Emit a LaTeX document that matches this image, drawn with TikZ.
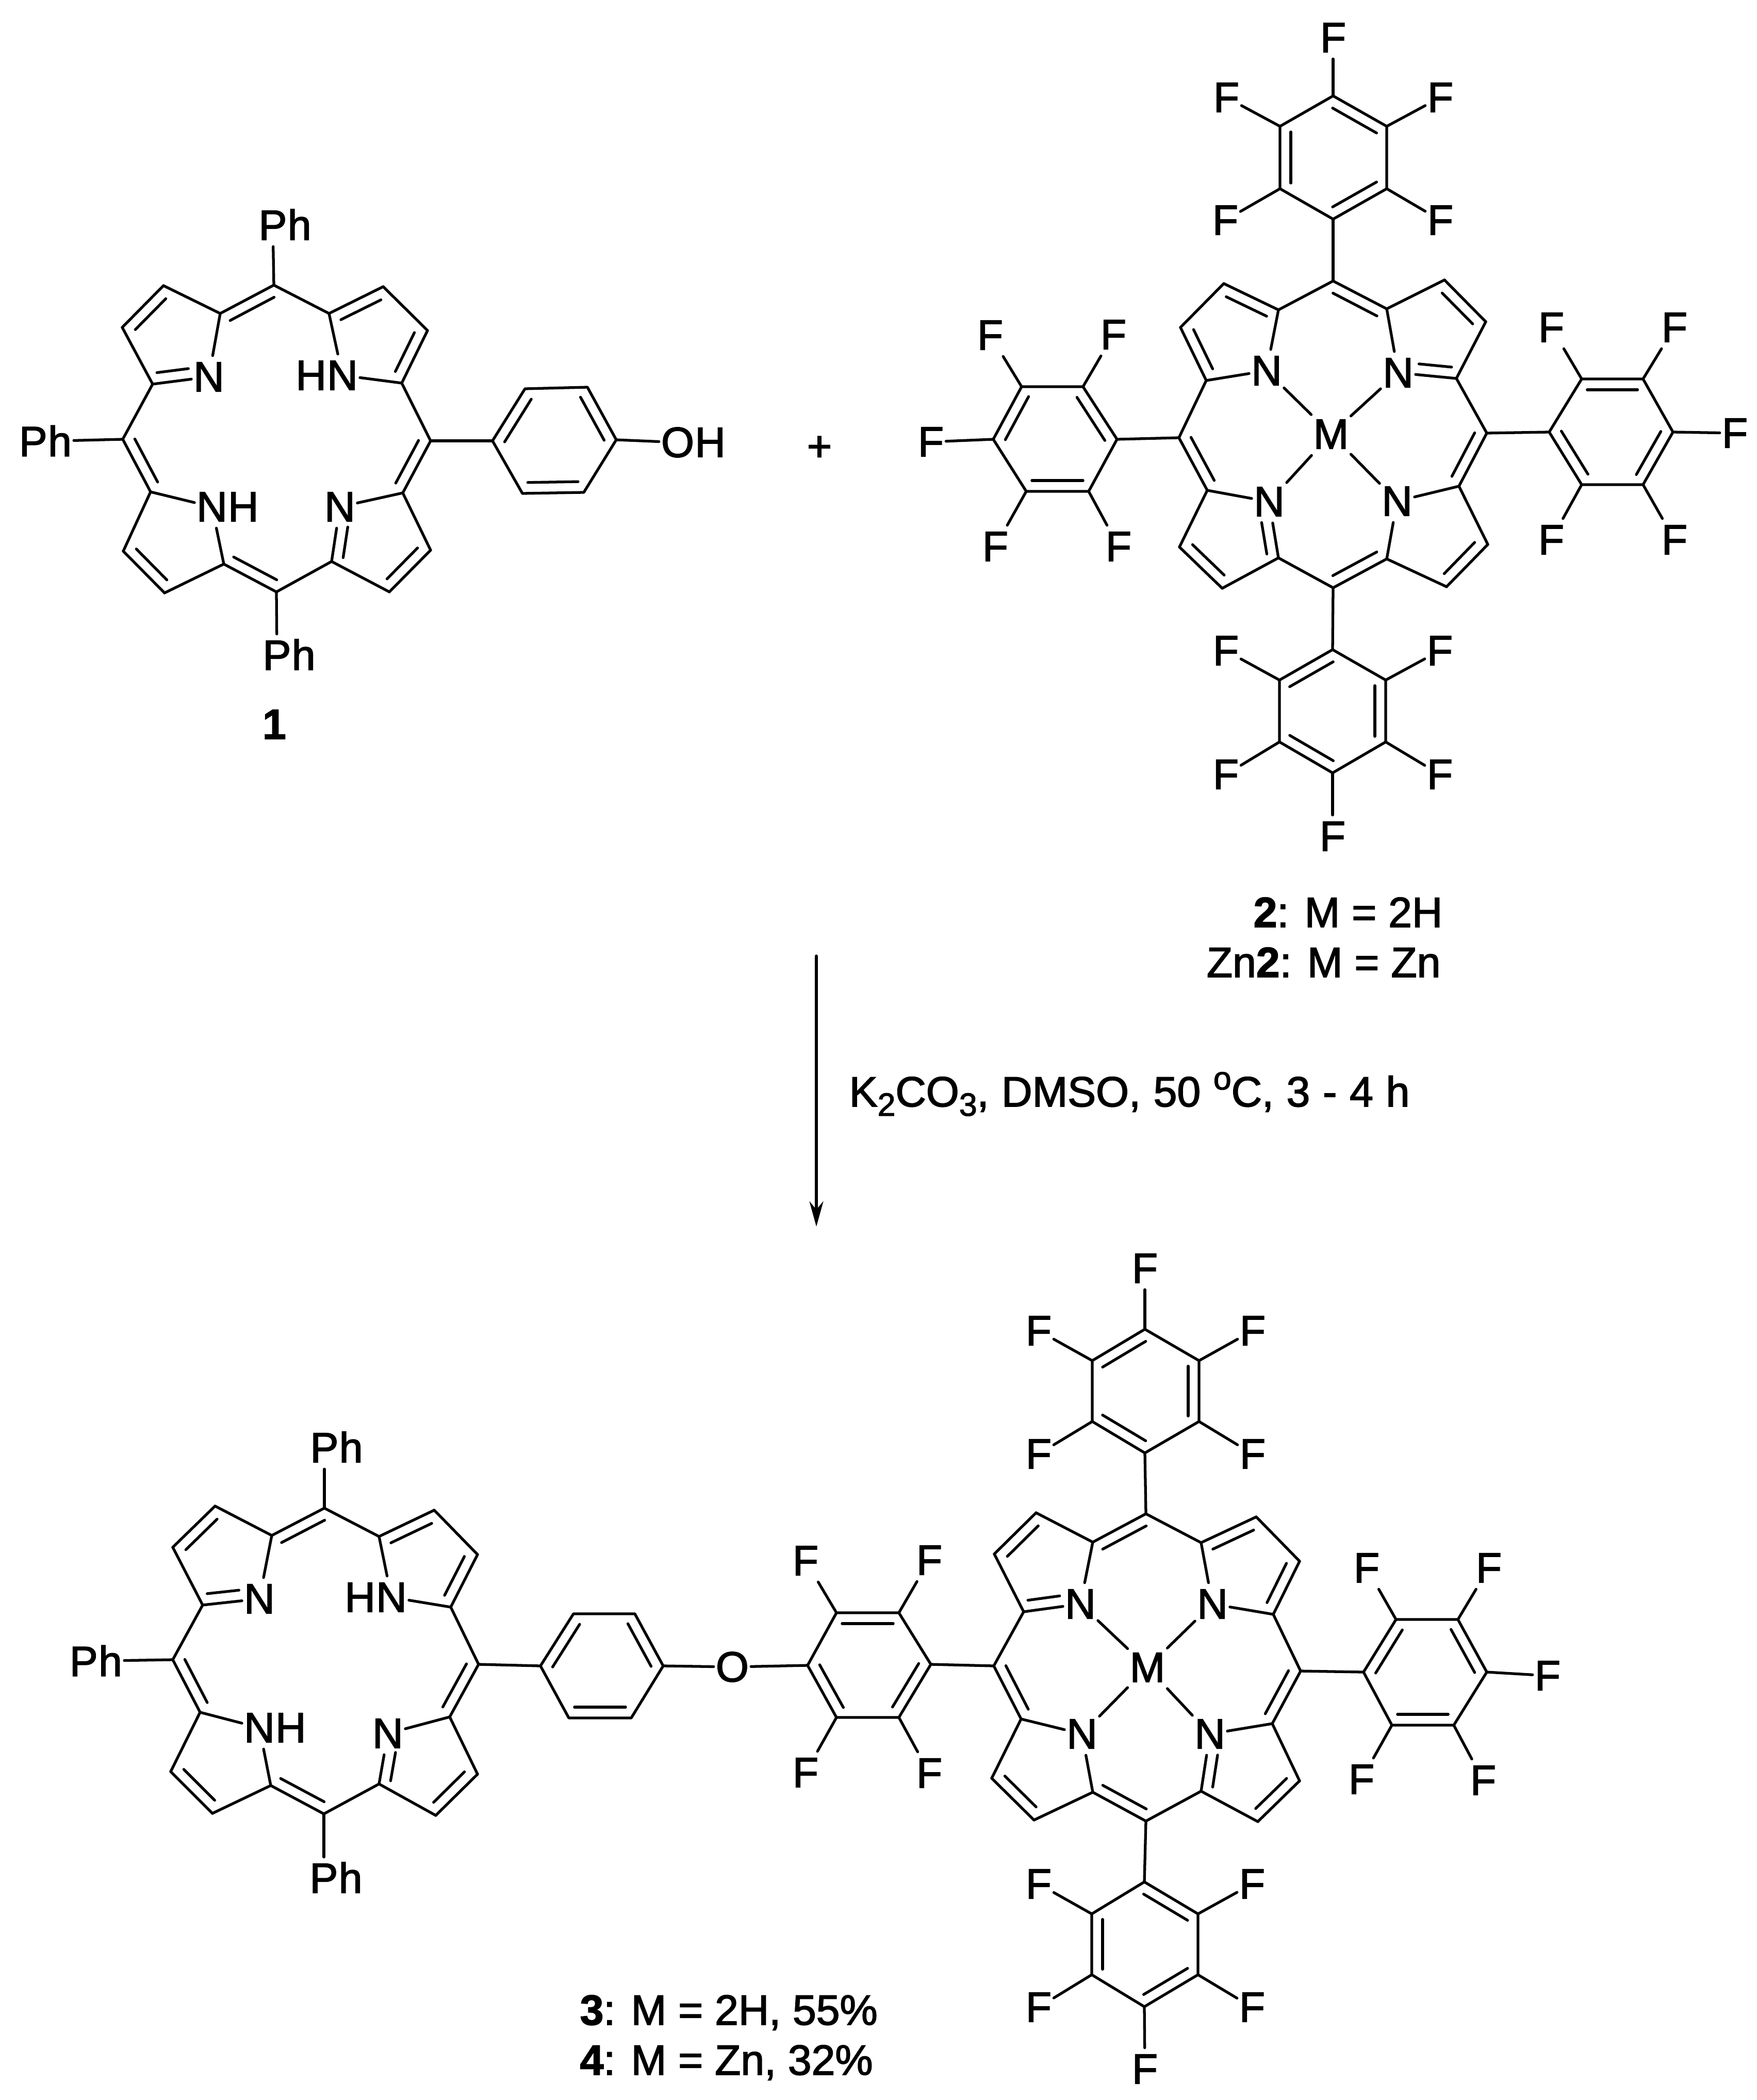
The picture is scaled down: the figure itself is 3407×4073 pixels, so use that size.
\documentclass[tikz,border=0pt]{standalone}
\usepackage{fontspec}
\setmainfont{Liberation Sans}[FakeBold=2]
\usetikzlibrary{calc,arrows.meta}
\tikzset{
	bond/.style={line width=1.5pt,line cap=round,line join=round},
	atom/.style={inner xsep=1pt,inner ysep=3.5pt},
	tailr/.style={inner sep=0pt,anchor=base west,xshift=-1pt},
	taill/.style={inner sep=0pt,anchor=base east,xshift=1pt},
	caption/.style={inner sep=0pt}
}
% inner line of a double bond, on the left of #1 -> #2
\newcommand{\dbl}[4]{\draw[bond] ($(#1)!#3!(#2)!2.1mm!90:(#2)$) -- ($(#1)!#4!(#2)!2.1mm!90:(#2)$);}
% porphyrin frame: 20 ring atoms counter-clockwise from the top, then 4 N
\newcommand{\core}[3]{
	\foreach \x/\y [count=\i] in {#2} \coordinate (#1\i) at (\x,\y);
	\foreach \i [remember=\i as \j (initially 20)] in {1,...,20} \draw[bond] (#1\j) -- (#1\i);
	\foreach \x/\y [count=\i] in {#3} \node[atom] (#1N\i) at (\x,\y) {N};
	\foreach \u/\v in {2/N1,5/N1,7/N2,10/N2,12/N3,15/N3,17/N4,20/N4} \draw[bond] (#1\u) -- (#1\v);
}
% double bonds of the free base pattern and of the M pattern
\newcommand{\fbbonds}[1]{
	\foreach \u/\v/\p/\q in {1/2/.09/.91,3/4/.13/.87,6/7/.09/.91,8/9/.13/.87,10/11/.09/.91,13/14/.13/.87,15/16/.09/.91,17/18/.13/.87,19/20/.13/.87} \dbl{#1\u}{#1\v}{\p}{\q};
	\dbl{#15}{#1N1}{.1}{.66}
	\dbl{#1N3}{#112}{.34}{.9}
}
\newcommand{\mbonds}[1]{
	\foreach \u/\v/\p/\q in {20/1/.09/.91,2/3/.13/.87,4/5/.13/.87,6/7/.09/.91,8/9/.13/.87,11/12/.09/.91,13/14/.13/.87,15/16/.09/.91,18/19/.13/.87} \dbl{#1\u}{#1\v}{\p}{\q};
	\dbl{#110}{#1N2}{.1}{.66}
	\dbl{#1N4}{#117}{.34}{.9}
	\foreach \i in {1,...,4} \draw[bond] (#1M) -- (#1N\i);
}
% benzene ring, six atoms counter-clockwise
\newcommand{\arene}[2]{
	\foreach \x/\y [count=\i] in {#2} \coordinate (#1\i) at (\x,\y);
	\draw[bond] (#11) -- (#12) -- (#13) -- (#14) -- (#15) -- (#16) -- cycle;
	\foreach \u/\v in {1/2,3/4,5/6} \dbl{#1\u}{#1\v}{.09}{.91};
}
\newcommand{\fluoro}[2]{
	\foreach \i/\x/\y in {#2} {
		\node[atom] (#1F\i) at (\x,\y) {F};
		\draw[bond] (#1\i) -- (#1F\i);
	}
}
\newcommand{\lowtxt}[1]{\raisebox{-1.8mm}{\fontsize{17.8}{20}\selectfont #1}}
\newcommand{\hightxt}[1]{\raisebox{3.3mm}{\fontsize{17.8}{20}\selectfont #1}}
\begin{document}
\begin{tikzpicture}[>={Stealth[length=4.9mm,width=2.7mm,inset=1.6mm]},x=0.01cm,y=-0.01cm,every node/.append style={font=\fontsize{23.4}{28}\selectfont}]
	\useasboundingbox (0,0) rectangle (3407,4073);
	% compound 1
	\core{a}{531/553,427/608,317/554,237/635,296/745,238/852,292/954,239/1069,319/1150,434/1094,536/1148,643/1089,755/1148,835/1067,781/956,835/855,779/743,829/641,743/556,638/608}{405/731,411/983,659/983,664/728}
	\fbbonds{a}
	\node[tailr] (aH2) at (aN2.base east) {H};
	\node[taill] (aH4) at (aN4.base west) {H};
	\node[atom] (aP1) at (529,437) {P};
	\node[tailr] (ah1) at (aP1.base east) {h};
	\node[atom] (ah2) at (116,855) {h};
	\node[taill] (aP2) at (ah2.base west) {P};
	\node[atom] (aP3) at (537,1271) {P};
	\node[tailr] (ah3) at (aP3.base east) {h};
	\draw[bond] (a1) -- (aP1);
	\draw[bond] (a6) -- (ah2);
	\draw[bond] (a11) -- (aP3);
	\arene{ar}{1195/853,1139/751,1018/754,955/855,1013/957,1132/955}
	\node[atom] (aO) at (1314,858) {O};
	\node[tailr] (aH) at (aO.base east) {H};
	\draw[bond] (a16) -- (ar4);
	\draw[bond] (ar1) -- (aO);
	\node[caption] (lab1) at (532,1405) {\textbf{1}};
	\node[caption] (plus) at (1589,870) {+};
	% compound 2
	\core{b}{2585/545,2479/601,2373/550,2289/635,2339/738,2286/849,2341/951,2287/1061,2370/1141,2479/1082,2585/1140,2689/1084,2805/1138,2885/1056,2829/943,2883/840,2824/734,2881/624,2801/543,2689/599}{2456/719,2461/973,2709/972,2711/723}
	\node[atom] (bM) at (2581,842) {M};
	\mbonds{b}
	\arene{bt}{2585/425,2689/366,2689/245,2585/186,2482/245,2482/366}
	\fluoro{bt}{2/2793/427,3/2793/189,4/2585/73,5/2378/189,6/2376/427}
	\arene{bl}{2166/852,2100/750,1981/750,1926/852,1990/953,2111/953}
	\fluoro{bl}{2/2159/649,3/1920/650,4/1805/857,5/1930/1060,6/2169/1060}
	\arene{br}{3004/838,3067/940,3186/940,3244/838,3186/735,3067/735}
	\fluoro{br}{2/3008/1047,3/3247/1047,4/3364/840,5/3247/635,6/3008/635}
	\arene{bb}{2584/1260,2481/1319,2481/1439,2584/1499,2687/1439,2687/1319}
	\fluoro{bb}{2/2377/1262,3/2377/1502,4/2584/1622,5/2792/1502,6/2792/1262}
	\draw[bond] (b1) -- (bt1);
	\draw[bond] (b6) -- (bl1);
	\draw[bond] (b16) -- (br1);
	\draw[bond] (b11) -- (bb1);
	\node[caption,anchor=base east] (lab2) at (2798,1798) {\textbf{2}: M = 2H};
	\node[caption,anchor=base east] (labZn) at (2794,1895) {Zn\textbf{2}: M = Zn};
	% reaction arrow
	\coordinate (arrtop) at (1583,1854);
	\coordinate (arrend) at (1583,2379);
	\draw[bond,->] (arrtop) -- (arrend);
	\node[caption,anchor=base west] (cond) at (1646,2146) {\spaceskip=.3em K\lowtxt{2}CO\lowtxt{3}, DMSO, 50 \hightxt{o}C, 3 - 4 h};
	% product, porphyrin with Ph groups
	\core{c}{629/2925,527/2978,417/2921,335/3001,393/3113,335/3219,388/3321,331/3436,412/3517,525/3463,628/3518,735/3460,845/3521,926/3441,872/3330,928/3228,874/3117,926/3015,842/2929,735/2980}{503/3101,503/3351,752/3362,759/3098}
	\fbbonds{c}
	\node[tailr] (cH2) at (cN2.base east) {H};
	\node[taill] (cH4) at (cN4.base west) {H};
	\node[atom] (cP1) at (629,2808) {P};
	\node[tailr] (ch1) at (cP1.base east) {h};
	\node[atom] (ch2) at (214,3221) {h};
	\node[taill] (cP2) at (ch2.base west) {P};
	\node[atom] (cP3) at (628,3643) {P};
	\node[tailr] (ch3) at (cP3.base east) {h};
	\draw[bond] (c1) -- (cP1);
	\draw[bond] (c6) -- (ch2);
	\draw[bond] (c11) -- (cP3);
	% linker
	\arene{cr}{1286/3231,1231/3130,1112/3130,1048/3231,1103/3332,1224/3332}
	\node[atom] (cO) at (1420,3233) {O};
	\arene{cf}{1566/3230,1622/3331,1743/3331,1805/3228,1743/3128,1622/3128}
	\fluoro{cf}{2/1562/3438,3/1802/3439,5/1802/3026,6/1562/3027}
	\draw[bond] (c16) -- (cr4);
	\draw[bond] (cr1) -- (cO);
	\draw[bond] (cO) -- (cf1);
	% product, porphyrin with M
	\core{d}{2222/2936,2119/2991,2009/2934,1928/3014,1985/3126,1927/3231,1980/3334,1923/3449,2005/3530,2119/3476,2222/3532,2329/3474,2439/3533,2520/3454,2467/3343,2522/3241,2469/3131,2520/3028,2436/2942,2329/2992}{2095/3111,2098/3363,2346/3363,2351/3111}
	\fbbonds{d}
	\node[atom] (dM) at (2225,3234) {M};
	\foreach \i in {1,...,4} \draw[bond] (dM) -- (dN\i);
	\arene{dt}{2220/2578,2118/2639,2118/2757,2220/2818,2325/2757,2325/2639}
	\fluoro{dt}{1/2220/2460,2/2014/2581,3/2014/2820,5/2429/2820,6/2429/2581}
	\arene{dr}{2883/3243,2827/3141,2707/3141,2644/3243,2699/3346,2819/3346}
	\fluoro{dr}{1/3001/3250,2/2887/3041,3/2650/3041,5/2640/3451,6/2876/3453}
	\arene{db}{2117/3712,2117/3830,2219/3892,2323/3830,2323/3712,2219/3650}
	\fluoro{db}{1/2014/3654,2/2014/3893,3/2220/4013,4/2428/3893,5/2428/3654}
	\draw[bond] (cf4) -- (d6);
	\draw[bond] (d1) -- (dt4);
	\draw[bond] (d16) -- (dr4);
	\draw[bond] (d11) -- (db6);
	\node[caption,anchor=base west] (lab3) at (1124,3927) {\textbf{3}: M = 2H, 55\%};
	\node[caption,anchor=base west] (lab4) at (1124,4024) {\textbf{4}: M = Zn, 32\%};
\end{tikzpicture}
\end{document}
